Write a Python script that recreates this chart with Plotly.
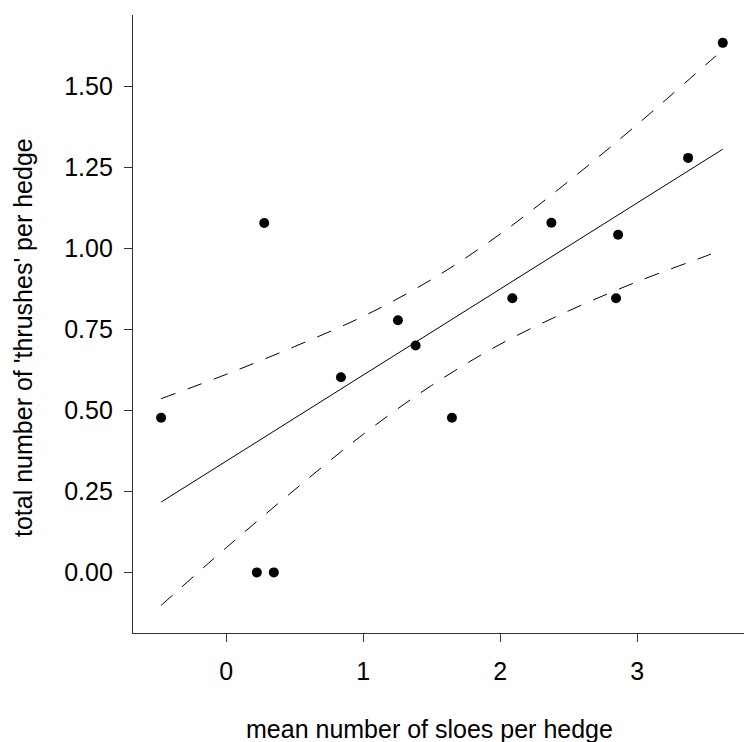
import plotly.graph_objects as go

# observed data points
sloes = [-0.475, 0.224, 0.348, 0.278, 0.838, 1.254, 1.383, 1.648, 2.089, 2.374, 2.846, 2.861, 3.372, 3.625]
thrushes = [0.477, 0.0, 0.0, 1.078, 0.602, 0.778, 0.700, 0.477, 0.846, 1.079, 0.846, 1.042, 1.279, 1.634]

# fitted regression line (end points)
fit_x = [-0.475, 3.625]
fit_y = [0.217, 1.306]

# confidence band
band_x = [-0.475, 0.0, 0.5, 1.0, 1.5, 2.0, 2.5, 3.0, 3.5, 3.625]
band_upper = [0.536, 0.611, 0.697, 0.790, 0.904, 1.044, 1.207, 1.382, 1.566, 1.612]
band_lower = [-0.102, 0.076, 0.255, 0.426, 0.577, 0.704, 0.807, 0.897, 0.976, 0.996]

x_ticks = [0, 1, 2, 3]
y_ticks = [0.0, 0.25, 0.5, 0.75, 1.0, 1.25, 1.5]
y_ticklabels = ["0.00", "0.25", "0.50", "0.75", "1.00", "1.25", "1.50"]

x_title = "mean number of sloes per hedge"
y_title = "total number of 'thrushes' per hedge"

FONT = "Liberation Sans, Arial, sans-serif"

fig = go.Figure()
for yy in (band_upper, band_lower):
    fig.add_trace(go.Scatter(x=band_x, y=yy, mode="lines", line_shape="spline",
                             line=dict(color="black", width=1, dash="15px,13px"),
                             hoverinfo="skip", showlegend=False))
fig.add_trace(go.Scatter(x=fit_x, y=fit_y, mode="lines",
                         line=dict(color="black", width=1), showlegend=False))
fig.add_trace(go.Scatter(x=sloes, y=thrushes, mode="markers",
                         marker=dict(color="black", size=10), showlegend=False))

axis_common = dict(showline=True, linecolor="#333333", linewidth=1.3, ticks="outside",
                   ticklen=8, tickwidth=1.3, tickcolor="#333333", showgrid=False,
                   zeroline=False, mirror=False,
                   tickfont=dict(family=FONT, size=25, color="black"))

fig.update_layout(
    width=744, height=742,
    margin=dict(l=133, r=0, t=15, b=109),
    paper_bgcolor="white", plot_bgcolor="white",
    font=dict(family=FONT, color="black"),
    xaxis=dict(range=[-0.68, 3.78], tickvals=x_ticks, ticklabelstandoff=8,
               **axis_common),
    yaxis=dict(range=[-0.187, 1.72], tickvals=y_ticks, ticktext=y_ticklabels,
               ticklabelstandoff=6, **axis_common),
    annotations=[
        dict(text=x_title, xref="paper", yref="paper", x=0.486, y=-0.1553,
             xanchor="center", yanchor="middle", showarrow=False,
             font=dict(family=FONT, size=25, color="black")),
        dict(text=y_title, xref="paper", yref="paper", x=-0.1792, y=0.4782,
             xanchor="center", yanchor="middle", textangle=-90, showarrow=False,
             font=dict(family=FONT, size=25, color="black")),
    ],
)

fig.write_html("out.html")
